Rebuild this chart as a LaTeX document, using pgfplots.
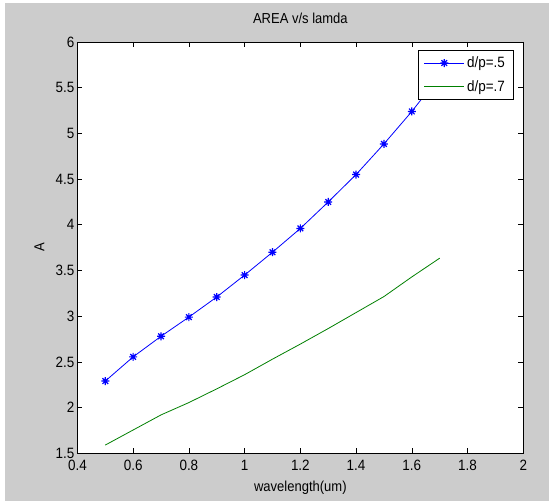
\documentclass[border=0pt]{standalone}
\usepackage{pgfplots}
\pgfplotsset{compat=1.18}
\usepackage{fontspec}
\setmainfont{Liberation Sans}[FakeStretch=0.9]
\definecolor{figgray}{RGB}{204,204,204}
\definecolor{mblue}{RGB}{0,0,255}
\definecolor{mgreen}{RGB}{0,128,0}
\pgfdeclareplotmark{mstar}{%
  \pgfpathmoveto{\pgfqpoint{-\pgfplotmarksize}{0pt}}\pgfpathlineto{\pgfqpoint{\pgfplotmarksize}{0pt}}%
  \pgfpathmoveto{\pgfqpoint{0pt}{-\pgfplotmarksize}}\pgfpathlineto{\pgfqpoint{0pt}{\pgfplotmarksize}}%
  \pgfpathmoveto{\pgfqpoint{-.7071\pgfplotmarksize}{-.7071\pgfplotmarksize}}\pgfpathlineto{\pgfqpoint{.7071\pgfplotmarksize}{.7071\pgfplotmarksize}}%
  \pgfpathmoveto{\pgfqpoint{-.7071\pgfplotmarksize}{.7071\pgfplotmarksize}}\pgfpathlineto{\pgfqpoint{.7071\pgfplotmarksize}{-.7071\pgfplotmarksize}}%
  \pgfusepathqstroke}
\begin{document}
\begin{tikzpicture}[x=1bp,y=1bp]
\fill[white] (-77.4,-50.7) rectangle (471.6,453.3);
\fill[figgray] (-72.4,-47.7) rectangle (471.6,450.3);
\begin{axis}[
  at={(0,0)}, anchor=south west,
  scale only axis, width=445.9bp, height=411.3bp,
  xmin=0.4, xmax=2, ymin=1.5, ymax=6,
  xtick={0.4,0.6,0.8,1,1.2,1.4,1.6,1.8,2},
  ytick={1.5,2,2.5,3,3.5,4,4.5,5,5.5,6},
  tick align=inside, major tick length=5bp,
  tick style={black, line width=0.6bp},
  axis line style={black, line width=0.8bp},
  axis background/.style={fill=white},
  /pgf/number format/assume math mode=true,
  tick label style={font=\fontsize{15}{17}\selectfont},
  xticklabel style={yshift=-3bp},
  yticklabel style={xshift=0.5bp},
  title={AREA v/s lamda},
  title style={at={(axis description cs:0.5,1)}, anchor=base, yshift=13bp, font=\fontsize{14.5}{17}\selectfont},
  xlabel={wavelength(um)},
  xlabel style={at={(axis description cs:0.5,0)}, anchor=base, yshift=-38.2bp, font=\fontsize{14.5}{17}\selectfont},
  ylabel={A},
  ylabel style={at={(axis description cs:-0.0852,0.5)}, anchor=center, font=\fontsize{14.5}{17}\selectfont},
  legend image code/.code={\draw[mark repeat=2,mark phase=2,#1] plot coordinates {(0bp,0bp) (20bp,0bp) (40bp,0bp)};},
  legend cell align=left,
  legend style={at={(axis description cs:0.9776,0.9805)}, anchor=north east,
    draw=black, line width=0.8bp, fill=white,
    font=\fontsize{15}{17}\selectfont,
    inner xsep=5.5bp, inner ysep=5bp,
    nodes={inner xsep=2.5bp, inner ysep=1.5bp},
    row sep=8bp},
]
\addplot[mblue, line width=0.8bp, mark=mstar, mark size=4bp, mark options={line width=1.2bp}] coordinates {
(0.5,2.29)(0.6,2.555)(0.7,2.78)(0.8,2.99)(0.9,3.21)(1.0,3.45)(1.1,3.70)(1.2,3.96)(1.3,4.25)(1.4,4.55)(1.5,4.885)(1.6,5.24)(1.7,5.63)};
\addlegendentry{d/p=.5}
\addplot[mgreen, line width=0.8bp] coordinates {
(0.5,1.59)(0.6,1.755)(0.7,1.92)(0.8,2.055)(0.9,2.205)(1.0,2.36)(1.1,2.53)(1.2,2.695)(1.3,2.865)(1.4,3.04)(1.5,3.215)(1.6,3.43)(1.7,3.635)};
\addlegendentry{d/p=.7}
\end{axis}
\pgfresetboundingbox
\useasboundingbox (-77.4,-50.7) rectangle (471.6,453.3);
\end{tikzpicture}
\end{document}
